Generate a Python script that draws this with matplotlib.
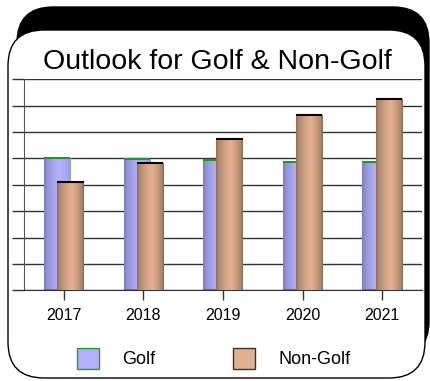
import matplotlib
matplotlib.use('Agg')
import matplotlib.pyplot as plt
import numpy as np
from matplotlib.patches import FancyBboxPatch, Rectangle

plt.rcParams['font.family'] = ['Liberation Sans', 'DejaVu Sans']

# data
years = ['2017', '2018', '2019', '2020', '2021']
golf = [5.0, 4.97, 4.93, 4.87, 4.85]
non_golf = [4.1, 4.81, 5.72, 6.64, 7.25]

W, H = 430, 381
fig = plt.figure(figsize=(W / 100, H / 100), dpi=100)

# background panel (pixel coords)
bg = fig.add_axes([0, 0, 1, 1])
bg.set_xlim(0, W)
bg.set_ylim(H, 0)
bg.axis('off')
R = 36
bg.add_patch(FancyBboxPatch((17 + R, 7 + R), 412 - 2 * R, 350 - 2 * R,
                            boxstyle='round,pad=%d' % R, fc='black', ec='black'))
bg.add_patch(FancyBboxPatch((8 + R, 30 + R), 417 - 2 * R, 348 - 2 * R,
                            boxstyle='round,pad=%d' % R, fc='white', ec='black', lw=1))

bg.text(217, 62, 'Outlook for Golf & Non-Golf', fontsize=20.5,
        ha='center', va='center', color='black')

# legend
bg.add_patch(Rectangle((77, 348), 22, 21, fc='#b0b0ff', ec='#2a9a2a', lw=1))
bg.text(122, 359, 'Golf', fontsize=13, va='center', ha='left')
bg.add_patch(Rectangle((233, 348), 22, 21, fc='#e0b090', ec='#333333', lw=1))
bg.text(279, 359, 'Non-Golf', fontsize=13, va='center', ha='left')

ax = fig.add_axes([24 / W, 1 - 290.3 / H, 398 / W, 211 / H])
ax.patch.set_alpha(0)
ax.set_xlim(-0.5, 4.5)
ax.set_ylim(0, 8)
ax.set_yticks(range(9))
ax.set_yticklabels([])
ax.yaxis.grid(True, color='#333333', lw=1)
ax.set_axisbelow(True)
ax.tick_params(axis='y', length=9, color='#333333', width=1)
ax.tick_params(axis='x', length=7, color='#333333', width=1, labelsize=11.5, pad=6)
for s in ['top', 'right']:
    ax.spines[s].set_visible(False)
ax.spines['left'].set_color('#555555')
ax.spines['bottom'].set_color('#333333')

x = np.arange(len(years))
w = 0.333
off = 0.083


def shade(c_dark, c_light, c_right, n=64):
    t = np.linspace(0, 1, n)
    prof = np.where(t < 0.55, t / 0.55, 1 - (t - 0.55) / 0.45)
    prof = np.sqrt(np.clip(prof, 0, 1))
    left = np.array(c_dark)
    mid = np.array(c_light)
    right = np.array(c_right)
    out = np.where((t < 0.55)[:, None],
                   left + (mid - left) * prof[:, None],
                   right + (mid - right) * prof[:, None])
    return out[None, :, :] / 255.0


golf_img = shade((118, 118, 178), (178, 178, 255), (150, 150, 220))
ng_img = shade((135, 105, 85), (228, 178, 145), (130, 100, 82))

bars_g = ax.bar(x - off, golf, w, color='none', zorder=2)
bars_n = ax.bar(x + off, non_golf, w, color='none', zorder=3)

for bars, img, z in [(bars_g, golf_img, 2), (bars_n, ng_img, 3)]:
    for r in bars:
        im = ax.imshow(img, extent=(r.get_x(), r.get_x() + r.get_width(), 0, r.get_height()),
                       aspect='auto', zorder=z, interpolation='bilinear')
        im.set_clip_path(r)

ax.hlines(golf, x - off - w / 2, x - off + w / 2, color='#1f9a1f', lw=1.5, zorder=2.5)
ax.hlines([0.02] * len(x), x - off - w / 2, x - off + w / 2, color='#1f9a1f', lw=1.2, zorder=2.5)
ax.hlines(non_golf, x + off - w / 2, x + off + w / 2, color='black', lw=1.5, zorder=3.5)

ax.set_xticks(x)
ax.set_xticklabels(years)

fig.savefig('out.png', dpi=100)
